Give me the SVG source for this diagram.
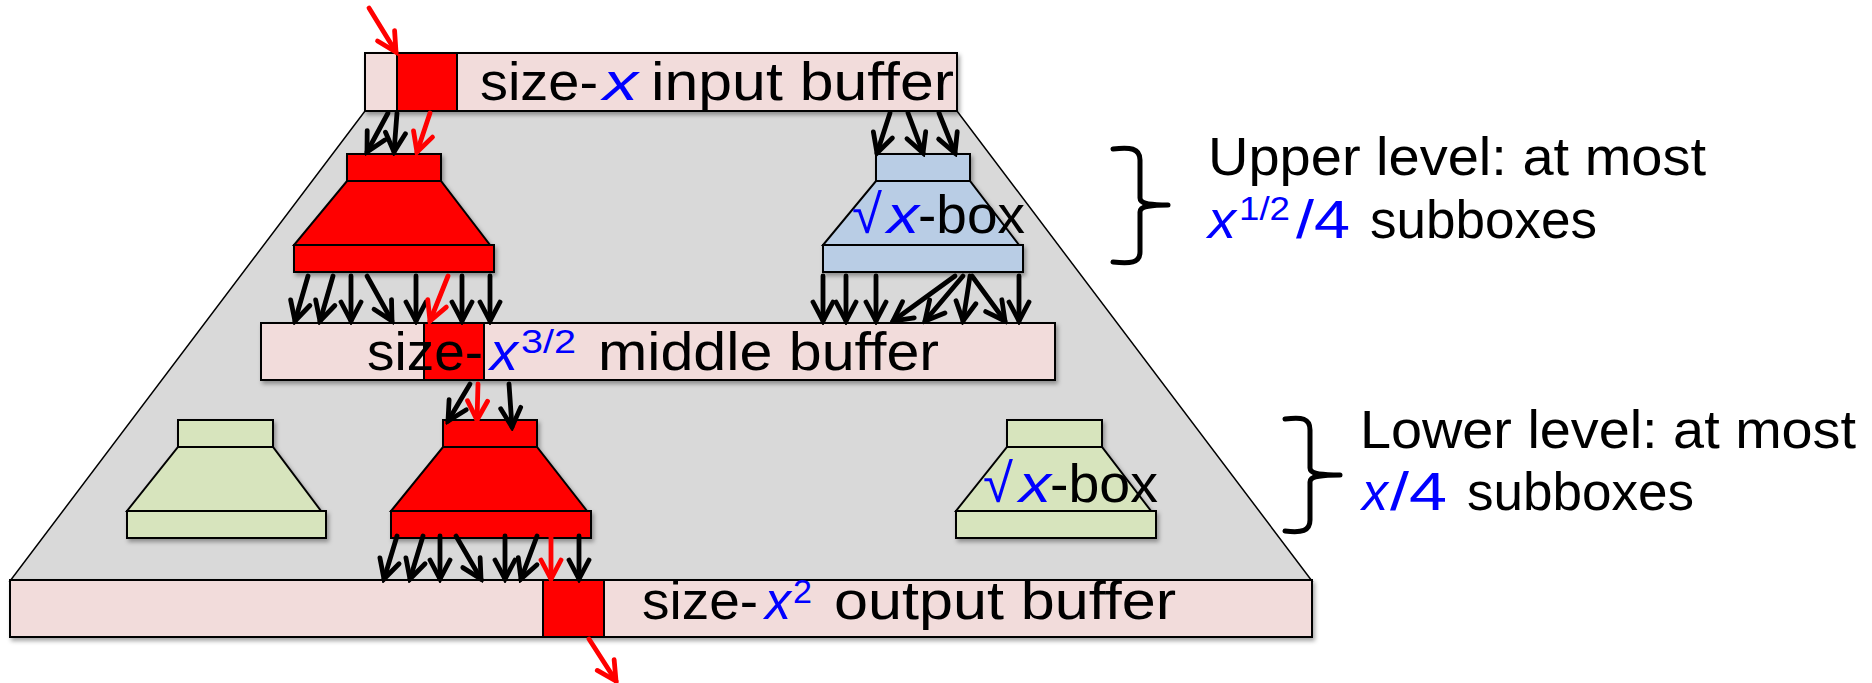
<svg xmlns="http://www.w3.org/2000/svg" width="1872" height="683" viewBox="0 0 1872 683">
<style>
text{font-family:"Liberation Sans",Arial,sans-serif;font-size:54px;fill:#000}
.b{fill:#0000ff}
.i{font-style:italic}
.sup{font-size:34px}
.buf{fill:#f2dcdb;stroke:#000;stroke-width:2}
.red{fill:#ff0000;stroke:#000;stroke-width:2}
.blue{fill:#b9cde5;stroke:#000;stroke-width:2}
.green{fill:#d7e4bd;stroke:#000;stroke-width:2}
.ar{fill:none;stroke:#000;stroke-width:4.8;stroke-linecap:round;marker-end:url(#mk)}
.arr{fill:none;stroke:#ff0000;stroke-width:4.8;stroke-linecap:round;marker-end:url(#mr)}
.brace{fill:none;stroke:#000;stroke-width:5;stroke-linecap:round;stroke-linejoin:round}
</style>
<defs>
<filter id="sh" x="-10%" y="-10%" width="130%" height="140%">
<feDropShadow dx="2" dy="3" stdDeviation="2" flood-color="#000" flood-opacity="0.35"/>
</filter>
<marker id="mk" viewBox="0 0 26 26" refX="22" refY="13" markerWidth="26" markerHeight="26" markerUnits="userSpaceOnUse" orient="auto">
<path d="M3,3 L22,13 L3,23" fill="none" stroke="#000" stroke-width="4.8" stroke-linecap="round" stroke-linejoin="miter"/>
</marker>
<marker id="mr" viewBox="0 0 26 26" refX="22" refY="13" markerWidth="26" markerHeight="26" markerUnits="userSpaceOnUse" orient="auto">
<path d="M3,3 L22,13 L3,23" fill="none" stroke="#ff0000" stroke-width="4.8" stroke-linecap="round" stroke-linejoin="miter"/>
</marker>
</defs>
<rect width="1872" height="683" fill="#fff"/>

<g id="structure">
<polygon points="365,111 957,111 1312,581 10,581" fill="#d9d9d9" stroke="#000" stroke-width="1.5"/>
</g>

<g id="input-buffer" filter="url(#sh)">
<rect class="buf" x="365" y="53" width="592" height="58"/>
<rect class="red" x="397" y="53" width="60" height="58"/>
</g>

<g id="middle-buffer" filter="url(#sh)">
<rect class="buf" x="261" y="323" width="794" height="57"/>
<rect class="red" x="424" y="323" width="60" height="57"/>
</g>

<g id="output-buffer" filter="url(#sh)">
<rect class="buf" x="10" y="580" width="1302" height="57"/>
<rect class="red" x="543" y="580" width="61" height="57"/>
</g>

<g id="upper-red-box" filter="url(#sh)">
<rect class="red" x="347" y="154" width="94" height="27"/>
<polygon class="red" points="347,181 441,181 490,245 294,245"/>
<rect class="red" x="294" y="245" width="200" height="27"/>
</g>

<g id="upper-blue-box" filter="url(#sh)">
<rect class="blue" x="876" y="154" width="94" height="27"/>
<polygon class="blue" points="876,181 970,181 1019,245 823,245"/>
<rect class="blue" x="823" y="245" width="200" height="27"/>
</g>

<g id="lower-green-left" filter="url(#sh)">
<rect class="green" x="178" y="420" width="95" height="27"/>
<polygon class="green" points="178,447 273,447 321,511 127,511"/>
<rect class="green" x="127" y="511" width="199" height="27"/>
</g>

<g id="lower-red-box" filter="url(#sh)">
<rect class="red" x="443" y="420" width="94" height="27"/>
<polygon class="red" points="443,447 537,447 587,511 391,511"/>
<rect class="red" x="391" y="511" width="200" height="27"/>
</g>

<g id="lower-green-right" filter="url(#sh)">
<rect class="green" x="1007" y="420" width="95" height="27"/>
<polygon class="green" points="1007,447 1102,447 1151,511 956,511"/>
<rect class="green" x="956" y="511" width="200" height="27"/>
</g>

<g id="connectors">
<line class="arr" x1="369" y1="8" x2="396" y2="52"/>
<line class="ar" x1="388" y1="113" x2="367" y2="152"/>
<line class="ar" x1="397" y1="113" x2="394" y2="152"/>
<line class="arr" x1="430" y1="113" x2="417" y2="152"/>
<line class="ar" x1="890" y1="113" x2="877" y2="153"/>
<line class="ar" x1="908" y1="113" x2="923" y2="153"/>
<line class="ar" x1="939" y1="113" x2="955" y2="153"/>

<line class="ar" x1="308" y1="276" x2="295" y2="321"/>
<line class="ar" x1="333" y1="276" x2="320" y2="321"/>
<line class="ar" x1="351" y1="276" x2="351" y2="321"/>
<line class="ar" x1="367" y1="276" x2="392" y2="321"/>
<line class="ar" x1="416" y1="276" x2="416" y2="321"/>
<line class="arr" x1="448" y1="276" x2="430" y2="321"/>
<line class="ar" x1="462" y1="276" x2="462" y2="321"/>
<line class="ar" x1="490" y1="276" x2="490" y2="321"/>

<line class="ar" x1="823" y1="276" x2="823" y2="321"/>
<line class="ar" x1="846" y1="276" x2="846" y2="321"/>
<line class="ar" x1="876" y1="276" x2="876" y2="321"/>
<line class="ar" x1="955" y1="276" x2="893" y2="321"/>
<line class="ar" x1="963" y1="276" x2="925" y2="321"/>
<line class="ar" x1="970" y1="276" x2="963" y2="321"/>
<line class="ar" x1="972" y1="276" x2="1005" y2="321"/>
<line class="ar" x1="1019" y1="276" x2="1019" y2="321"/>

<line class="ar" x1="470" y1="384" x2="448" y2="421"/>
<line class="arr" x1="478" y1="384" x2="477" y2="420"/>
<line class="ar" x1="509" y1="384" x2="512" y2="427"/>

<line class="ar" x1="397" y1="536" x2="384" y2="579"/>
<line class="ar" x1="423" y1="536" x2="410" y2="579"/>
<line class="ar" x1="440" y1="536" x2="440" y2="579"/>
<line class="ar" x1="456" y1="536" x2="481" y2="579"/>
<line class="ar" x1="505" y1="536" x2="505" y2="579"/>
<line class="ar" x1="537" y1="536" x2="521" y2="579"/>
<line class="arr" x1="551" y1="536" x2="551" y2="579"/>
<line class="ar" x1="579" y1="536" x2="579" y2="579"/>

<line class="arr" x1="589" y1="639" x2="616" y2="681"/>
</g>

<g id="labels">
<text><tspan x="480" y="100" textLength="118" lengthAdjust="spacingAndGlyphs">size-</tspan><tspan class="b i" x="603" y="100" textLength="35" lengthAdjust="spacingAndGlyphs">x</tspan><tspan x="651" y="100" textLength="303" lengthAdjust="spacingAndGlyphs">input buffer</tspan></text>

<text><tspan x="367" y="370" textLength="116" lengthAdjust="spacingAndGlyphs">size-</tspan><tspan class="b i" x="490" y="370" textLength="28" lengthAdjust="spacingAndGlyphs">x</tspan><tspan class="b sup" x="521" y="353" textLength="55" lengthAdjust="spacingAndGlyphs">3/2</tspan><tspan x="598" y="370" textLength="341" lengthAdjust="spacingAndGlyphs">middle buffer</tspan></text>

<text><tspan x="642" y="619" textLength="116" lengthAdjust="spacingAndGlyphs">size-</tspan><tspan class="b i" x="765" y="619" textLength="26" lengthAdjust="spacingAndGlyphs">x</tspan><tspan class="b sup" x="793" y="603" textLength="19" lengthAdjust="spacingAndGlyphs">2</tspan><tspan x="834" y="619" textLength="342" lengthAdjust="spacingAndGlyphs">output buffer</tspan></text>

<text><tspan class="b" x="852" y="233" textLength="30" lengthAdjust="spacingAndGlyphs">√</tspan><tspan class="b i" x="887" y="233" textLength="32" lengthAdjust="spacingAndGlyphs">x</tspan><tspan x="918" y="233" textLength="107" lengthAdjust="spacingAndGlyphs">-box</tspan></text>

<text><tspan class="b" x="983" y="502" textLength="30" lengthAdjust="spacingAndGlyphs">√</tspan><tspan class="b i" x="1019" y="502" textLength="32" lengthAdjust="spacingAndGlyphs">x</tspan><tspan x="1050" y="502" textLength="108" lengthAdjust="spacingAndGlyphs">-box</tspan></text>
</g>

<g id="upper-level-note">
<path class="brace" d="M1113,149 C1130,147 1140,148 1140,160 L1140,198 C1140,204 1150,205 1168,205 C1150,205 1140,206 1140,212 L1140,252 C1140,263 1130,264 1113,262"/>
<text><tspan x="1208" y="175" textLength="498" lengthAdjust="spacingAndGlyphs">Upper level: at most</tspan></text>
<text><tspan class="b i" x="1208" y="238" textLength="28" lengthAdjust="spacingAndGlyphs">x</tspan><tspan class="b sup" x="1239" y="220" textLength="51" lengthAdjust="spacingAndGlyphs">1/2</tspan><tspan class="b" x="1296" y="238" textLength="54" lengthAdjust="spacingAndGlyphs">/4</tspan><tspan x="1370" y="238" textLength="227" lengthAdjust="spacingAndGlyphs">subboxes</tspan></text>
</g>

<g id="lower-level-note">
<path class="brace" d="M1285,419 C1302,417 1310,418 1310,430 L1310,468 C1310,474 1320,475 1340,475 C1320,475 1310,476 1310,482 L1310,520 C1310,531 1302,533 1285,531"/>
<text><tspan x="1360" y="448" textLength="496" lengthAdjust="spacingAndGlyphs">Lower level: at most</tspan></text>
<text><tspan class="b i" x="1362" y="510" textLength="26" lengthAdjust="spacingAndGlyphs">x</tspan><tspan class="b" x="1390" y="510" textLength="57" lengthAdjust="spacingAndGlyphs">/4</tspan><tspan x="1467" y="510" textLength="227" lengthAdjust="spacingAndGlyphs">subboxes</tspan></text>
</g>
</svg>
